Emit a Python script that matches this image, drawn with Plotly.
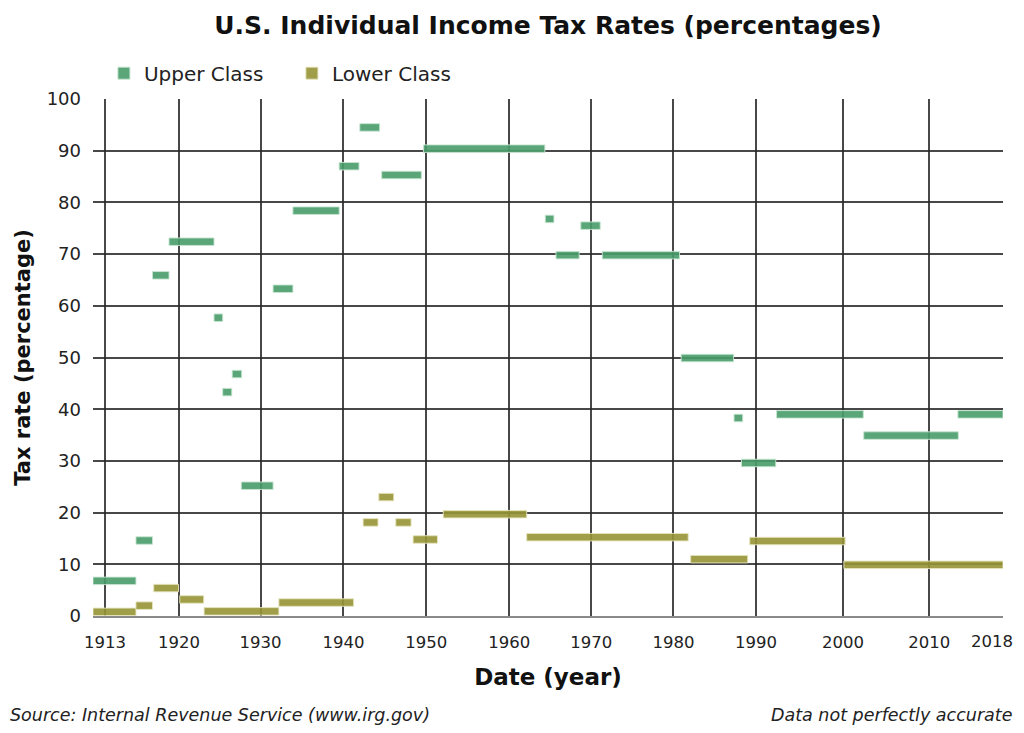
import plotly.graph_objects as go

# Grid positions on the year axis and the labels printed under them
grid_years = [1911.04, 1920, 1929.89, 1939.92, 1949.94, 1959.99, 1969.92, 1979.87, 1989.85, 2000.39, 2010.83, 2019.7]
grid_labels = ["1913", "1920", "1930", "1940", "1950", "1960", "1970", "1980", "1990", "2000", "2010", "2018"]

# Upper class: top marginal rate over each period
upper_start = [1909.6, 1914.8, 1916.8, 1918.8, 1924.25, 1925.3, 1926.45, 1927.55, 1931.4, 1933.8,
               1939.4, 1941.9, 1944.55, 1949.6, 1964.35, 1965.65, 1968.65, 1971.25, 1980.8,
               1987.2, 1988.1, 1992.35, 2002.9, 2014.3]
upper_end = [1914.8, 1916.8, 1918.8, 1924.25, 1925.3, 1926.4, 1927.6, 1931.4, 1933.8, 1939.4,
             1941.8, 1944.3, 1949.35, 1964.3, 1965.4, 1968.45, 1971.0, 1980.6, 1987.15,
             1988.25, 1992.25, 2002.85, 2014.35, 2019.76]
upper_rate = [6.8, 14.6, 65.9, 72.4, 57.7, 43.3, 46.8, 25.2, 63.3, 78.4,
              87.0, 94.5, 85.3, 90.4, 76.8, 69.8, 75.5, 69.8, 49.9,
              38.3, 29.6, 39.0, 34.9, 39.0]

# Lower class: bottom bracket rate over each period
lower_start = [1909.6, 1914.8, 1916.95, 1920.1, 1923.05, 1932.1, 1942.3, 1944.2, 1946.25,
               1948.35, 1952.0, 1962.1, 1981.95, 1989.1, 2000.5]
lower_end = [1914.8, 1916.8, 1919.95, 1923.0, 1932.1, 1941.15, 1944.1, 1946.0, 1948.1,
             1951.3, 1962.1, 1981.65, 1988.85, 2000.65, 2019.76]
lower_rate = [0.8, 2.0, 5.4, 3.2, 0.9, 2.6, 18.1, 23.0, 18.1,
              14.8, 19.7, 15.25, 11.0, 14.5, 9.9]

FONT = "DejaVu Sans"
green = "rgba(72,156,106,0.9)"
olive = "rgba(150,148,52,0.9)"

fig = go.Figure()

fig.add_trace(go.Bar(
    name="Upper Class",
    orientation="h",
    y=upper_rate,
    base=upper_start,
    x=[e - s for s, e in zip(upper_start, upper_end)],
    width=1.45,
    marker=dict(color=green, line=dict(color="rgba(200,230,210,0.9)", width=1)),
))
fig.add_trace(go.Bar(
    name="Lower Class",
    orientation="h",
    y=lower_rate,
    base=lower_start,
    x=[e - s for s, e in zip(lower_start, lower_end)],
    width=1.45,
    marker=dict(color=olive, line=dict(color="rgba(230,228,190,0.9)", width=1)),
))

# last year label sits on the right edge, so it is right-aligned there
# instead of centred on its grid line (it would be cut off otherwise)
last_label = dict(
    text=grid_labels[-1], xref="x", yref="paper",
    x=grid_years[-1], y=0, xanchor="right", yanchor="middle",
    xshift=12, yshift=-25, showarrow=False,
    font=dict(family=FONT, size=16.5, color="#222222"),
)

# the page keeps an 8px body margin all round, so the figure is 16px smaller
fig.update_layout(
    width=1008, height=717,
    template="plotly_white",
    barmode="overlay",
    plot_bgcolor="white",
    paper_bgcolor="white",
    font=dict(family=FONT, size=18, color="#222222"),
    title=dict(
        text="<b>U.S. Individual Income Tax Rates (percentages)</b>",
        x=0.5, xanchor="center", xref="paper",
        y=1 - 17 / 717, yanchor="middle", yref="container",
        font=dict(family=FONT, size=25, color="#111111"),
    ),
    margin=dict(l=85, r=13, t=91, b=109, autoexpand=False),
    showlegend=True,
    legend=dict(
        orientation="h",
        x=0.012, xanchor="left",
        y=1.05, yanchor="middle",
        font=dict(family=FONT, size=20, color="#222222"),
        itemwidth=30,
        entrywidth=143, entrywidthmode="pixels",
        bgcolor="rgba(0,0,0,0)",
    ),
    xaxis=dict(
        range=[1909.6, 2019.76],
        automargin=False,
        tickmode="array",
        tickvals=grid_years,
        ticktext=grid_labels[:-1] + [""],
        showgrid=True, gridcolor="rgba(40,40,40,0.85)", gridwidth=1.5,
        showline=True, linecolor="#8a8a8a", linewidth=2,
        zeroline=False,
        ticks="",
        ticklabelstandoff=10,
        tickfont=dict(size=16.5, color="#222222"),
        title=dict(text="<b>Date (year)</b>", font=dict(size=23, color="#111111"), standoff=18),
    ),
    yaxis=dict(
        range=[0, 100],
        automargin=False,
        tickmode="array",
        tickvals=[0, 10, 20, 30, 40, 50, 60, 70, 80, 90, 100],
        showgrid=True, gridcolor="rgba(40,40,40,0.85)", gridwidth=1.5,
        zeroline=False,
        ticks="",
        ticklabelstandoff=11,
        tickfont=dict(size=18, color="#222222"),
        title=dict(text="<b>Tax rate (percentage)</b>", font=dict(size=21, color="#111111"), standoff=10),
    ),
    annotations=[
        last_label,
        dict(text="<i>Source: Internal Revenue Service (www.irg.gov)</i>",
             xref="paper", yref="paper", x=-0.0934, y=-0.1915,
             xanchor="left", yanchor="middle", showarrow=False,
             font=dict(family=FONT, size=17.5, color="#222222")),
        dict(text="<i>Data not perfectly accurate</i>",
             xref="paper", yref="paper", x=1.012, y=-0.1915,
             xanchor="right", yanchor="middle", showarrow=False,
             font=dict(family=FONT, size=17.5, color="#222222")),
    ],
)

fig.write_html("out.html")
